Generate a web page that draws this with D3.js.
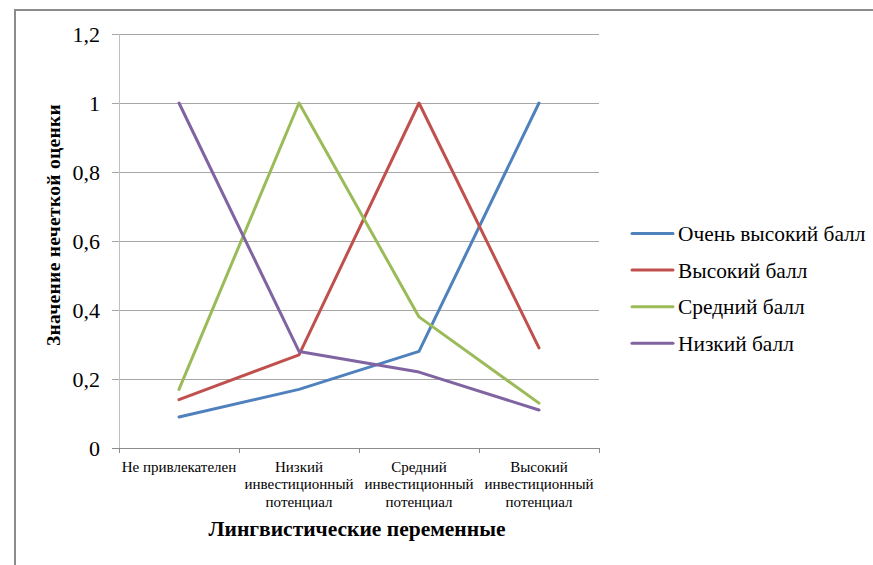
<!DOCTYPE html>
<html>
<head>
<meta charset="utf-8">
<script src="https://cdn.jsdelivr.net/npm/d3@7"></script>
<style>
  html, body { margin: 0; padding: 0; background: #fff; }
</style>
</head>
<body>
<svg id="chart" width="873" height="565"></svg>
<script>
// Linguistic variables (x categories), each label split into lines
const categories = [
  ["Не привлекателен"],
  ["Низкий", "инвестиционный", "потенциал"],
  ["Средний", "инвестиционный", "потенциал"],
  ["Высокий", "инвестиционный", "потенциал"]
];
const seriesNames = ["Очень высокий балл", "Высокий балл", "Средний балл", "Низкий балл"];
const veryHigh = [0.09, 0.17, 0.28, 1.0];
const high     = [0.14, 0.27, 1.0, 0.29];
const medium   = [0.17, 1.0, 0.38, 0.13];
const low      = [1.0, 0.28, 0.22, 0.11];
const yTicks = [0, 0.2, 0.4, 0.6, 0.8, 1, 1.2];
const colors = ["#4F81BD", "#C0504D", "#9BBB59", "#8064A2"];

const series = [veryHigh, high, medium, low];
const FONT = '"Liberation Serif"';

const svg = d3.select("#chart");

// outer frame
svg.append("rect")
  .attr("x", 15).attr("y", 10)
  .attr("width", 900).attr("height", 600)
  .attr("fill", "none").attr("stroke", "#8c8c8c").attr("stroke-width", 2);

const plot = { left: 119, right: 599, top: 34, bottom: 448 };

const x = d3.scaleBand()
  .domain(d3.range(categories.length))
  .range([plot.left, plot.right])
  .paddingInner(0).paddingOuter(0);

const y = d3.scaleLinear().domain([0, 1.2]).range([plot.bottom, plot.top]);

// horizontal gridlines
svg.append("g")
  .selectAll("line")
  .data(yTicks)
  .join("line")
  .attr("x1", plot.left - 7).attr("x2", plot.right)
  .attr("y1", d => y(d)).attr("y2", d => y(d))
  .attr("stroke", d => d === 0 ? "#8c8c8c" : "#a6a6a6")
  .attr("stroke-width", 1)
  .attr("shape-rendering", "crispEdges");

// y axis line
svg.append("line")
  .attr("x1", plot.left).attr("x2", plot.left)
  .attr("y1", plot.top).attr("y2", plot.bottom)
  .attr("stroke", "#bfbfbf").attr("stroke-width", 1)
  .attr("shape-rendering", "crispEdges");

// y tick labels
const fmt = d => d3.format("~g")(d).replace(".", ",");
svg.append("g")
  .selectAll("text")
  .data(yTicks)
  .join("text")
  .style("font-family", FONT)
  .attr("x", plot.left - 19)
  .attr("y", d => y(d))
  .attr("dy", "0.35em")
  .attr("text-anchor", "end")
  .attr("font-size", 22)
  .text(fmt);

// x axis category ticks
const xEdges = d3.range(categories.length + 1).map(i => i < categories.length ? x(i) : x(categories.length - 1) + x.bandwidth());
svg.append("g")
  .selectAll("line")
  .data(xEdges)
  .join("line")
  .attr("x1", d => d).attr("x2", d => d)
  .attr("y1", plot.bottom).attr("y2", plot.bottom + 5)
  .attr("stroke", "#8c8c8c")
  .attr("shape-rendering", "crispEdges");

// category labels
const catG = svg.append("g");
categories.forEach((lines, i) => {
  const t = catG.append("text")
    .style("font-family", FONT)
    .attr("x", x(i) + x.bandwidth() / 2)
    .attr("y", 472)
    .attr("text-anchor", "middle")
    .attr("font-size", 15);
  lines.forEach((ln, j) => {
    t.append("tspan")
      .attr("x", x(i) + x.bandwidth() / 2)
      .attr("dy", j === 0 ? 0 : 17.3)
      .text(ln);
  });
});

// series lines
const line = d3.line()
  .x((d, i) => x(i) + x.bandwidth() / 2)
  .y(d => y(d));

svg.append("g")
  .selectAll("path")
  .data(series)
  .join("path")
  .attr("d", d => line(d))
  .attr("fill", "none")
  .attr("stroke", (d, i) => colors[i])
  .attr("stroke-width", 3)
  .attr("stroke-linejoin", "round")
  .attr("stroke-linecap", "round");

// legend
const legend = svg.append("g");
seriesNames.forEach((name, i) => {
  const cy = 233.5 + i * 36.6;
  legend.append("line")
    .attr("x1", 632).attr("x2", 673)
    .attr("y1", cy).attr("y2", cy)
    .attr("stroke", colors[i]).attr("stroke-width", 3)
    .attr("stroke-linecap", "round");
  legend.append("text")
    .style("font-family", FONT)
    .attr("x", 678).attr("y", cy)
    .attr("dy", "0.35em")
    .attr("font-size", 21.4)
    .text(name);
});

// axis titles
svg.append("text")
  .style("font-family", FONT)
  .attr("x", 357).attr("y", 536)
  .attr("text-anchor", "middle")
  .attr("font-size", 21.5).attr("font-weight", "bold")
  .text("Лингвистические переменные");

svg.append("text")
  .style("font-family", FONT)
  .attr("transform", "translate(60,225) rotate(-90)")
  .attr("text-anchor", "middle")
  .attr("font-size", 19.5).attr("font-weight", "bold")
  .attr("letter-spacing", 0.3)
  .text("Значение нечеткой оценки");
</script>
</body>
</html>
